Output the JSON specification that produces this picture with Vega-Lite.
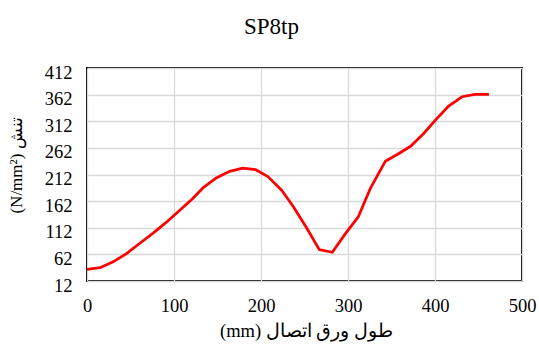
{
  "$schema": "https://vega.github.io/schema/vega-lite/v6.json",
  "autosize": "none",
  "width": 435,
  "height": 213,
  "padding": {"left": 87, "top": 68, "right": 17, "bottom": 66},
  "background": "white",
  "title": {
    "text": "SP8tp",
    "font": "Liberation Serif, Times New Roman, serif",
    "fontSize": 23,
    "fontWeight": "normal",
    "color": "#000000",
    "anchor": "middle",
    "frame": "group",
    "dx": -33,
    "dy": 30,
    "baseline": "alphabetic",
    "offset": 36
  },
  "data": {
    "values": [
      {"length": 0, "stress": 34},
      {"length": 15, "stress": 37},
      {"length": 30, "stress": 48},
      {"length": 45, "stress": 63},
      {"length": 60, "stress": 82},
      {"length": 76, "stress": 102},
      {"length": 91, "stress": 122},
      {"length": 106, "stress": 144},
      {"length": 121, "stress": 166},
      {"length": 134, "stress": 188},
      {"length": 149, "stress": 206},
      {"length": 164, "stress": 218},
      {"length": 179, "stress": 224},
      {"length": 194, "stress": 221},
      {"length": 208, "stress": 208},
      {"length": 224, "stress": 182},
      {"length": 237, "stress": 152},
      {"length": 252, "stress": 113},
      {"length": 267, "stress": 71},
      {"length": 282, "stress": 66},
      {"length": 297, "stress": 101},
      {"length": 312, "stress": 133},
      {"length": 326, "stress": 187},
      {"length": 343, "stress": 237},
      {"length": 357, "stress": 250},
      {"length": 372, "stress": 265},
      {"length": 387, "stress": 289},
      {"length": 401, "stress": 315},
      {"length": 416, "stress": 341},
      {"length": 431, "stress": 358},
      {"length": 446, "stress": 362.5},
      {"length": 462, "stress": 362.5}
    ]
  },
  "mark": {"type": "line", "color": "#ff0000", "strokeWidth": 2.75, "strokeJoin": "round"},
  "encoding": {
    "x": {
      "field": "length",
      "type": "quantitative",
      "scale": {"domain": [0, 500], "nice": false, "zero": false},
      "axis": {
        "values": [0, 100, 200, 300, 400, 500],
        "labelFlush": false,
        "title": "(mm) طول ورق اتصال",
        "titleX": 219,
        "titleY": 49,
        "titleBaseline": "middle",
        "titleAlign": "center"
      }
    },
    "y": {
      "field": "stress",
      "type": "quantitative",
      "scale": {"domain": [12, 412], "nice": false, "zero": false},
      "axis": {
        "values": [12, 62, 112, 162, 212, 262, 312, 362, 412],
        "labelFlush": false,
        "title": "(N/mm²) تنش",
        "titleFontSize": 17,
        "titleX": -71,
        "titleY": 97,
        "titleAngle": -90,
        "titleBaseline": "middle",
        "titleAlign": "center",
        "labelOffset": 4
      }
    }
  },
  "config": {
    "view": {"stroke": "#000000", "strokeWidth": 2},
    "axis": {
      "domain": false,
      "ticks": false,
      "grid": true,
      "gridColor": "#d9d9d9",
      "gridWidth": 1.3,
      "labelFont": "Liberation Serif, Times New Roman, serif",
      "labelFontSize": 18.5,
      "labelColor": "#000000",
      "labelPadding": 15,
      "labelOverlap": false,
      "titleFont": "Liberation Serif, Times New Roman, serif",
      "titleFontSize": 18.5,
      "titleFontWeight": "normal",
      "titleColor": "#000000"
    },
    "axisY": {"labelBaseline": "middle"},
    "axisX": {"labelBaseline": "top"}
  }
}
